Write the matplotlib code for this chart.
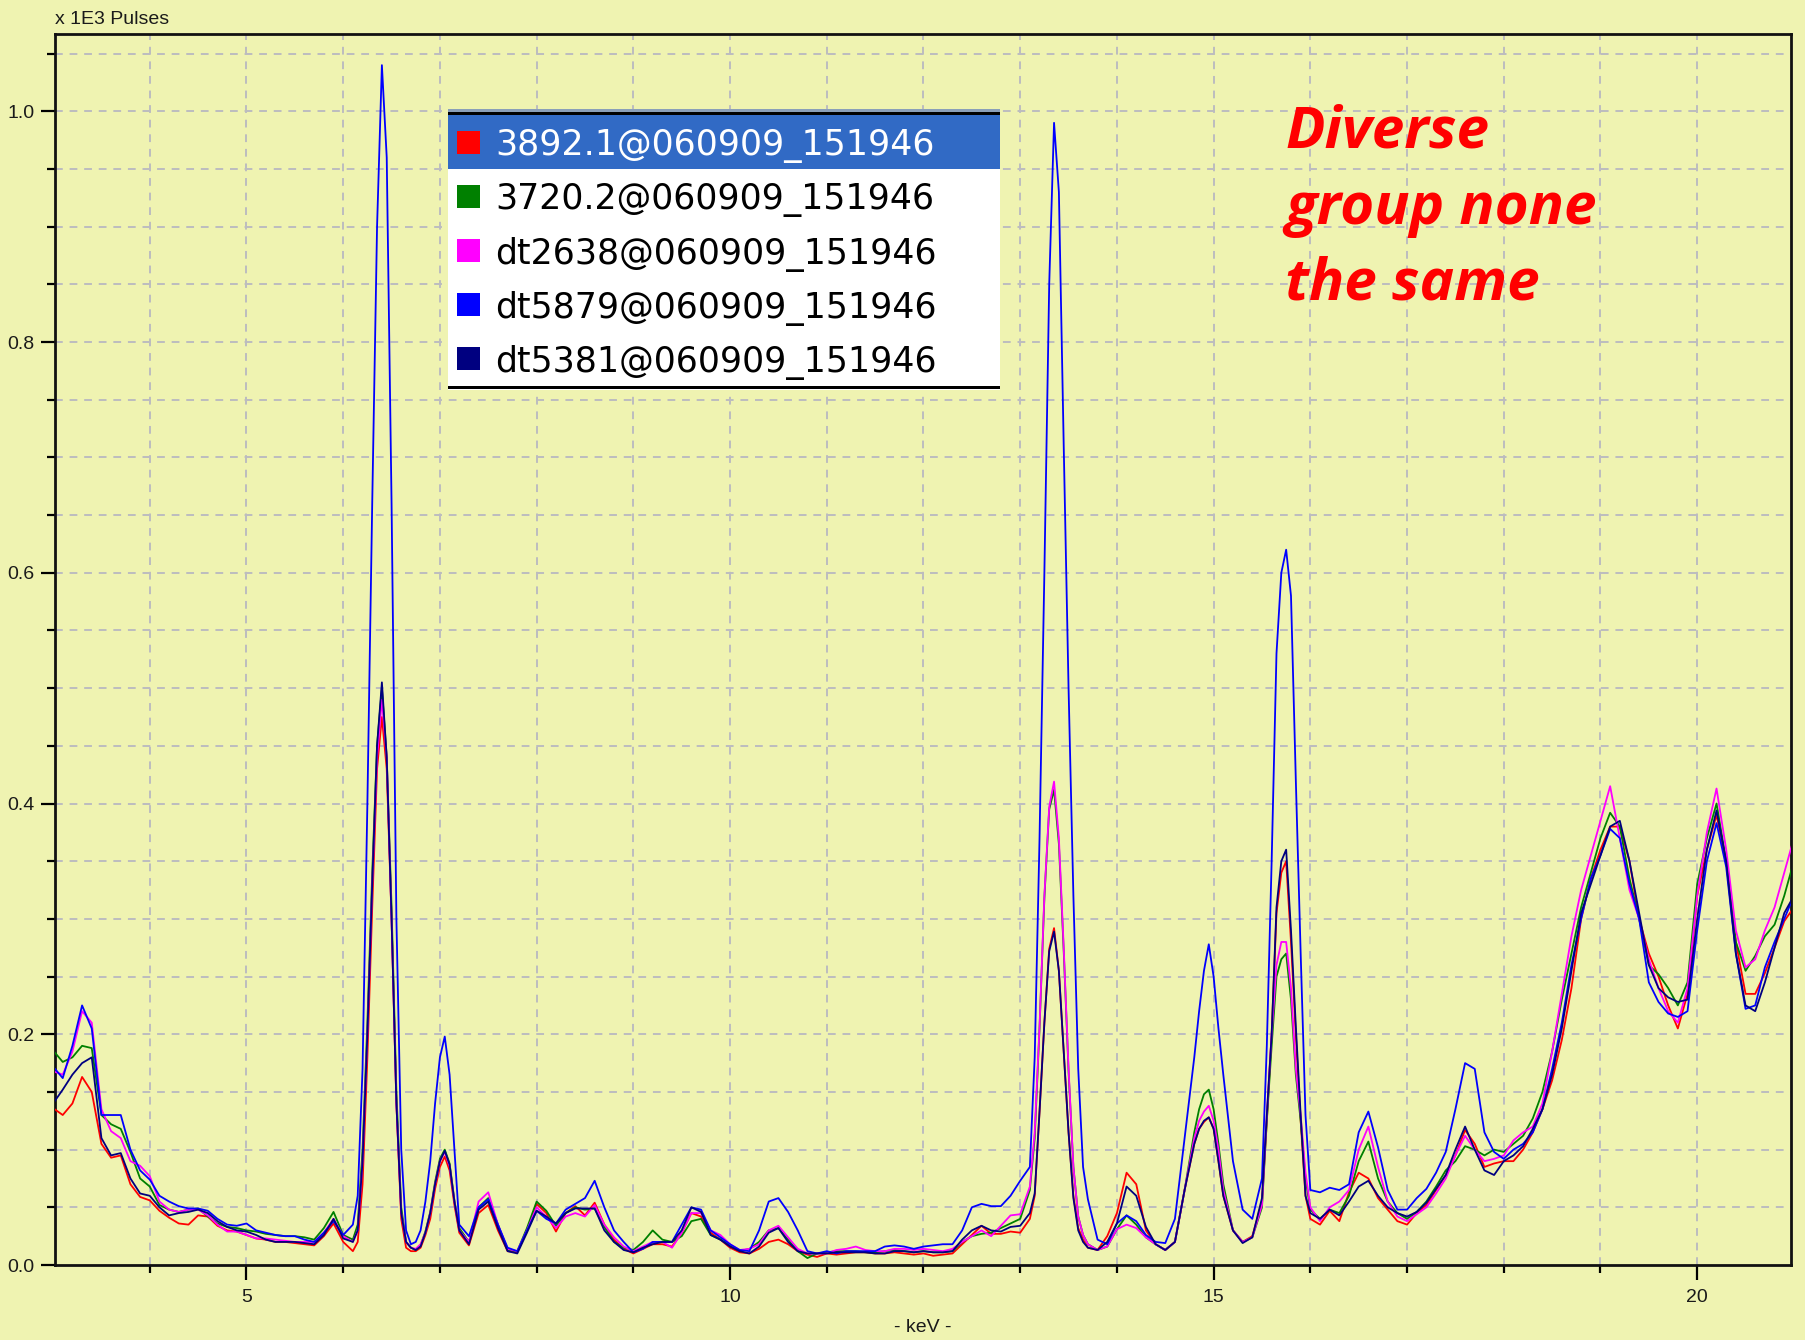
import numpy as np
import matplotlib
matplotlib.use("Agg")
import matplotlib.pyplot as plt
from matplotlib.patches import Rectangle
from matplotlib.ticker import MultipleLocator, FixedLocator, NullFormatter


def seg(a, b, step):
    return np.round(np.arange(a, b + step / 2, step), 2)


# energy channels (keV): 0.1 keV steps, 0.05 keV across the main peaks
kev = np.concatenate([
    seg(3.0, 6.1, 0.1), seg(6.15, 7.2, 0.05), seg(7.3, 13.1, 0.1),
    seg(13.15, 13.7, 0.05), seg(13.8, 14.8, 0.1), seg(14.85, 15.1, 0.05),
    seg(15.2, 15.5, 0.1), seg(15.55, 16.0, 0.05), seg(16.1, 21.0, 0.1),
])

names = ["3892.1@060909_151946", "3720.2@060909_151946", "dt2638@060909_151946",
         "dt5879@060909_151946", "dt5381@060909_151946"]
colors = ["#FF0000", "#008000", "#FF00FF", "#0000FF", "#000080"]

# counts, x 1E3 pulses
red = [
    0.136, 0.130, 0.140, 0.163, 0.150, 0.105, 0.093, 0.095, 0.070, 0.059,
    0.056, 0.047, 0.041, 0.036, 0.035, 0.043, 0.042, 0.034, 0.030, 0.029,
    0.026, 0.023, 0.022, 0.020, 0.020, 0.019, 0.018, 0.017, 0.025, 0.036,
    0.020, 0.012,
    0.020, 0.070, 0.180, 0.310, 0.430, 0.475, 0.430, 0.300, 0.140, 0.040, 0.015,
    0.012, 0.012, 0.015, 0.026, 0.040, 0.066, 0.085, 0.094, 0.082, 0.052, 0.028,
    0.017, 0.045, 0.052, 0.030, 0.012, 0.011, 0.030, 0.053, 0.045, 0.029,
    0.045, 0.051, 0.043, 0.054, 0.035, 0.022, 0.014, 0.010, 0.014, 0.018,
    0.018, 0.016, 0.028, 0.045, 0.042, 0.028, 0.022, 0.015, 0.011, 0.010,
    0.014, 0.020, 0.022, 0.018, 0.012, 0.009, 0.007, 0.010, 0.009, 0.010,
    0.011, 0.011, 0.010, 0.010, 0.011, 0.010, 0.009, 0.010, 0.008, 0.009,
    0.010, 0.018, 0.026, 0.034, 0.027, 0.027, 0.029, 0.028, 0.040,
    0.060, 0.133, 0.210, 0.274, 0.292, 0.255, 0.185, 0.115, 0.060, 0.032, 0.022, 0.015,
    0.013, 0.025, 0.045, 0.080, 0.070, 0.030, 0.018, 0.013, 0.020, 0.065, 0.105,
    0.118, 0.124, 0.128, 0.118, 0.090, 0.060,
    0.030, 0.020, 0.025, 0.055,
    0.125, 0.200, 0.305, 0.340, 0.350, 0.280, 0.200, 0.125, 0.060, 0.040,
    0.035, 0.047, 0.038, 0.063, 0.080, 0.075, 0.058, 0.048, 0.038, 0.035,
    0.045, 0.052, 0.065, 0.078, 0.095, 0.117, 0.105, 0.085, 0.088, 0.090,
    0.090, 0.100, 0.115, 0.135, 0.160, 0.195, 0.240, 0.300, 0.335, 0.360,
    0.380, 0.380, 0.350, 0.300, 0.270, 0.250, 0.225, 0.205, 0.235, 0.320,
    0.360, 0.390, 0.350, 0.280, 0.235, 0.235, 0.253, 0.275, 0.298, 0.310,
]
green = [
    0.186, 0.176, 0.180, 0.190, 0.188, 0.130, 0.122, 0.118, 0.098, 0.075,
    0.068, 0.052, 0.048, 0.046, 0.048, 0.049, 0.042, 0.036, 0.033, 0.032,
    0.030, 0.029, 0.027, 0.026, 0.025, 0.025, 0.024, 0.022, 0.032, 0.046,
    0.026, 0.022,
    0.035, 0.100, 0.210, 0.340, 0.450, 0.500, 0.440, 0.310, 0.150, 0.050, 0.020,
    0.015, 0.013, 0.017, 0.029, 0.046, 0.072, 0.092, 0.100, 0.088, 0.056, 0.032,
    0.020, 0.050, 0.058, 0.035, 0.013, 0.012, 0.032, 0.055, 0.047, 0.034,
    0.045, 0.050, 0.048, 0.049, 0.033, 0.020, 0.015, 0.013, 0.020, 0.030,
    0.022, 0.020, 0.025, 0.038, 0.040, 0.026, 0.022, 0.017, 0.012, 0.014,
    0.020, 0.030, 0.032, 0.022, 0.012, 0.006, 0.010, 0.011, 0.012, 0.012,
    0.012, 0.011, 0.011, 0.012, 0.013, 0.012, 0.011, 0.012, 0.011, 0.011,
    0.012, 0.020, 0.025, 0.027, 0.028, 0.032, 0.036, 0.040, 0.065,
    0.110, 0.205, 0.318, 0.395, 0.412, 0.365, 0.272, 0.168, 0.085, 0.042, 0.026, 0.018,
    0.013, 0.016, 0.031, 0.043, 0.035, 0.024, 0.018, 0.013, 0.020, 0.065, 0.115,
    0.135, 0.148, 0.152, 0.135, 0.105, 0.070,
    0.030, 0.020, 0.024, 0.050,
    0.125, 0.190, 0.250, 0.265, 0.270, 0.230, 0.165, 0.125, 0.075, 0.048,
    0.040, 0.048, 0.045, 0.060, 0.090, 0.107, 0.075, 0.055, 0.045, 0.040,
    0.046, 0.055, 0.068, 0.082, 0.090, 0.103, 0.100, 0.095, 0.100, 0.098,
    0.105, 0.112, 0.127, 0.150, 0.185, 0.230, 0.270, 0.310, 0.340, 0.370,
    0.392, 0.380, 0.335, 0.300, 0.260, 0.252, 0.240, 0.225, 0.245, 0.330,
    0.370, 0.400, 0.350, 0.280, 0.255, 0.268, 0.285, 0.295, 0.320, 0.350,
]
magenta = [
    0.168, 0.165, 0.185, 0.220, 0.210, 0.135, 0.116, 0.110, 0.090, 0.086,
    0.077, 0.055, 0.048, 0.046, 0.048, 0.048, 0.043, 0.035, 0.029, 0.029,
    0.026, 0.023, 0.023, 0.022, 0.021, 0.020, 0.020, 0.020, 0.028, 0.040,
    0.025, 0.020,
    0.030, 0.090, 0.200, 0.330, 0.440, 0.490, 0.440, 0.300, 0.140, 0.045, 0.020,
    0.015, 0.014, 0.018, 0.028, 0.045, 0.070, 0.090, 0.098, 0.086, 0.055, 0.030,
    0.020, 0.055, 0.063, 0.035, 0.014, 0.012, 0.030, 0.050, 0.042, 0.032,
    0.042, 0.045, 0.042, 0.052, 0.035, 0.024, 0.016, 0.012, 0.016, 0.020,
    0.020, 0.015, 0.028, 0.045, 0.045, 0.030, 0.026, 0.018, 0.013, 0.014,
    0.018, 0.030, 0.034, 0.024, 0.014, 0.010, 0.010, 0.010, 0.013, 0.014,
    0.016, 0.013, 0.012, 0.012, 0.014, 0.014, 0.013, 0.014, 0.013, 0.012,
    0.014, 0.020, 0.025, 0.030, 0.025, 0.034, 0.043, 0.044, 0.068,
    0.115, 0.207, 0.320, 0.397, 0.419, 0.370, 0.275, 0.170, 0.085, 0.042, 0.026, 0.018,
    0.013, 0.016, 0.031, 0.035, 0.032, 0.024, 0.018, 0.013, 0.020, 0.065, 0.110,
    0.125, 0.133, 0.138, 0.125, 0.100, 0.065,
    0.030, 0.020, 0.024, 0.052,
    0.130, 0.200, 0.260, 0.280, 0.280, 0.240, 0.170, 0.130, 0.080, 0.050,
    0.038, 0.050, 0.055, 0.065, 0.100, 0.120, 0.085, 0.055, 0.042, 0.038,
    0.044, 0.050, 0.062, 0.075, 0.095, 0.112, 0.100, 0.090, 0.092, 0.095,
    0.108, 0.115, 0.120, 0.140, 0.185, 0.235, 0.285, 0.325, 0.355, 0.385,
    0.415, 0.370, 0.325, 0.300, 0.265, 0.240, 0.220, 0.210, 0.240, 0.320,
    0.375, 0.413, 0.360, 0.290, 0.258, 0.265, 0.290, 0.310, 0.340, 0.370,
]
blue = [
    0.172, 0.162, 0.190, 0.225, 0.205, 0.130, 0.130, 0.130, 0.100, 0.082,
    0.074, 0.060, 0.055, 0.051, 0.049, 0.049, 0.047, 0.040, 0.035, 0.034,
    0.036, 0.030, 0.028, 0.026, 0.025, 0.025, 0.022, 0.020, 0.028, 0.038,
    0.026, 0.035,
    0.060, 0.170, 0.400, 0.660, 0.900, 1.040, 0.960, 0.660, 0.300, 0.100, 0.030,
    0.018, 0.020, 0.030, 0.055, 0.090, 0.140, 0.180, 0.198, 0.165, 0.100, 0.035,
    0.025, 0.050, 0.057, 0.035, 0.015, 0.012, 0.030, 0.047, 0.040, 0.036,
    0.048, 0.053, 0.058, 0.073, 0.050, 0.030, 0.020, 0.011, 0.014, 0.020,
    0.020, 0.020, 0.035, 0.050, 0.048, 0.030, 0.024, 0.018, 0.013, 0.012,
    0.030, 0.055, 0.058, 0.046, 0.030, 0.012, 0.010, 0.012, 0.010, 0.012,
    0.012, 0.012, 0.012, 0.016, 0.017, 0.016, 0.014, 0.016, 0.017, 0.018,
    0.018, 0.030, 0.050, 0.053, 0.051, 0.051, 0.060, 0.073, 0.085,
    0.180, 0.370, 0.600, 0.850, 0.990, 0.930, 0.710, 0.500, 0.320, 0.170, 0.085, 0.057,
    0.022, 0.018, 0.036, 0.043, 0.038, 0.026, 0.020, 0.019, 0.040, 0.110, 0.180,
    0.220, 0.255, 0.278, 0.250, 0.205, 0.165,
    0.090, 0.048, 0.040, 0.075,
    0.190, 0.350, 0.530, 0.600, 0.620, 0.580, 0.420, 0.270, 0.130, 0.065,
    0.063, 0.067, 0.065, 0.070, 0.115, 0.133, 0.102, 0.065, 0.048, 0.048,
    0.058, 0.066, 0.080, 0.098, 0.135, 0.175, 0.170, 0.115, 0.098, 0.092,
    0.100, 0.105, 0.115, 0.135, 0.170, 0.210, 0.260, 0.300, 0.335, 0.355,
    0.378, 0.370, 0.330, 0.300, 0.245, 0.228, 0.218, 0.215, 0.220, 0.290,
    0.350, 0.383, 0.345, 0.270, 0.222, 0.225, 0.258, 0.280, 0.300, 0.320,
]
navy = [
    0.140, 0.152, 0.165, 0.175, 0.180, 0.110, 0.095, 0.097, 0.075, 0.062,
    0.060, 0.050, 0.043, 0.045, 0.046, 0.048, 0.045, 0.038, 0.033, 0.030,
    0.029, 0.026, 0.022, 0.020, 0.020, 0.020, 0.019, 0.018, 0.026, 0.040,
    0.023, 0.020,
    0.030, 0.090, 0.200, 0.330, 0.450, 0.505, 0.440, 0.300, 0.140, 0.045, 0.020,
    0.015, 0.013, 0.016, 0.028, 0.045, 0.070, 0.090, 0.099, 0.087, 0.055, 0.030,
    0.018, 0.048, 0.055, 0.032, 0.012, 0.010, 0.028, 0.047, 0.042, 0.036,
    0.045, 0.049, 0.049, 0.049, 0.030, 0.020, 0.013, 0.011, 0.015, 0.018,
    0.020, 0.020, 0.030, 0.050, 0.046, 0.026, 0.022, 0.016, 0.012, 0.010,
    0.016, 0.028, 0.032, 0.020, 0.012, 0.010, 0.010, 0.010, 0.011, 0.011,
    0.011, 0.011, 0.010, 0.010, 0.012, 0.012, 0.011, 0.012, 0.011, 0.011,
    0.012, 0.022, 0.030, 0.034, 0.030, 0.029, 0.033, 0.034, 0.045,
    0.062, 0.133, 0.210, 0.272, 0.289, 0.255, 0.185, 0.115, 0.058, 0.030, 0.020, 0.015,
    0.013, 0.020, 0.036, 0.068, 0.060, 0.033, 0.018, 0.013, 0.020, 0.065, 0.105,
    0.118, 0.125, 0.128, 0.118, 0.090, 0.060,
    0.030, 0.019, 0.024, 0.058,
    0.130, 0.200, 0.310, 0.350, 0.360, 0.290, 0.207, 0.130, 0.060, 0.045,
    0.040, 0.048, 0.043, 0.055, 0.068, 0.073, 0.060, 0.050, 0.045, 0.042,
    0.046, 0.054, 0.066, 0.078, 0.100, 0.120, 0.100, 0.082, 0.078, 0.090,
    0.095, 0.103, 0.118, 0.135, 0.165, 0.205, 0.255, 0.305, 0.330, 0.355,
    0.380, 0.385, 0.350, 0.305, 0.260, 0.240, 0.232, 0.228, 0.230, 0.300,
    0.360, 0.394, 0.350, 0.270, 0.225, 0.220, 0.245, 0.275, 0.305, 0.320,
]
series = [red, green, magenta, blue, navy]
for s in series:
    assert len(s) == len(kev), (len(s), len(kev))

W, H = 1806, 1340
bg = "#EFF3B1"
fig = plt.figure(figsize=(W / 100, H / 100), dpi=100, facecolor=bg)


def px_axes(x0, y0, x1, y1, **kw):
    # axes placed by pixel box (top-left origin)
    return fig.add_axes([x0 / W, 1 - y1 / H, (x1 - x0) / W, (y1 - y0) / H], **kw)


ax = px_axes(55, 34, 1791, 1265)
ax.set_facecolor(bg)

for ys, c in zip(series, colors):
    ax.plot(kev, ys, color=c, lw=1.3, zorder=3)

ax.set_xlim(3.02, 20.97)
ax.set_ylim(0, 1.067)

ax.xaxis.set_major_locator(FixedLocator([5, 10, 15, 20]))
ax.xaxis.set_minor_locator(MultipleLocator(1))
ax.yaxis.set_major_locator(MultipleLocator(0.2))
ax.yaxis.set_minor_locator(MultipleLocator(0.05))
ax.yaxis.set_major_formatter(plt.FuncFormatter(lambda v, p: f"{v:.1f}"))
ax.xaxis.set_minor_formatter(NullFormatter())

tick_font = dict(family="Liberation Sans", size=14, color="#1a1a1a")
ax.tick_params(axis="x", which="major", length=11, width=1.6, pad=6, direction="out")
ax.tick_params(axis="x", which="minor", length=6, width=1.6, direction="out")
ax.tick_params(axis="y", which="major", length=10, width=1.6, pad=5, direction="out")
ax.tick_params(axis="y", which="minor", length=6, width=1.6, direction="out")
for lab in ax.get_xticklabels() + ax.get_yticklabels():
    lab.set_fontfamily(tick_font["family"])
    lab.set_fontsize(tick_font["size"])
    lab.set_color(tick_font["color"])

# dashed grid every 1 keV and every 0.05
grid_kw = dict(color="#BCBCBF", lw=1.4, linestyle=(0, (4, 3.5)), zorder=1)
for xv in range(4, 21):
    ax.axvline(xv, **grid_kw)
for k in range(1, 22):
    ax.axhline(k * 0.05, **grid_kw)

for sp in ax.spines.values():
    sp.set_color("#111111")
    sp.set_linewidth(2.0)

fig.text(55 / W, 1 - 19 / H, "x 1E3 Pulses", ha="left", va="center", **tick_font)
fig.text(923 / W, 1 - 1327 / H, "- keV -", ha="center", va="center", **tick_font)

# legend panel
lx0, ly0, lx1, ly1 = 448, 109, 1000, 390
lax = px_axes(lx0, ly0, lx1, ly1)
lax.set_xlim(0, lx1 - lx0)
lax.set_ylim(ly1 - ly0, 0)
lax.axis("off")
lw_, lh_ = lx1 - lx0, ly1 - ly0
lax.add_patch(Rectangle((0, 0), lw_, lh_, facecolor="white", edgecolor="none"))
lax.add_patch(Rectangle((0, 0), lw_, 3, facecolor="#8A9FB8", edgecolor="none"))
lax.add_patch(Rectangle((0, 3), lw_, 3, facecolor="black", edgecolor="none"))
lax.add_patch(Rectangle((0, 6), lw_, 54, facecolor="#316AC5", edgecolor="none"))
lax.add_patch(Rectangle((0, lh_ - 4), lw_, 3, facecolor="black", edgecolor="none"))
for i, (name, c) in enumerate(zip(names, colors)):
    yc = 33 + 54 * i
    lax.add_patch(Rectangle((9, yc - 11.5), 23, 23, facecolor=c, edgecolor="none"))
    lax.text(47, yc, name, ha="left", va="center_baseline", fontsize=25,
             family="DejaVu Sans", color="white" if i == 0 else "black")

# annotation
note_kw = dict(family="Open Sans", fontsize=42, fontweight="bold", fontstyle="italic",
               color="#FF0000", ha="left", va="baseline")
for line, base in zip(["Diverse", "group none", "the same"], [147, 224, 300]):
    fig.text(1285 / W, 1 - base / H, line, **note_kw)

fig.savefig("out.png", dpi=100, facecolor=bg)
